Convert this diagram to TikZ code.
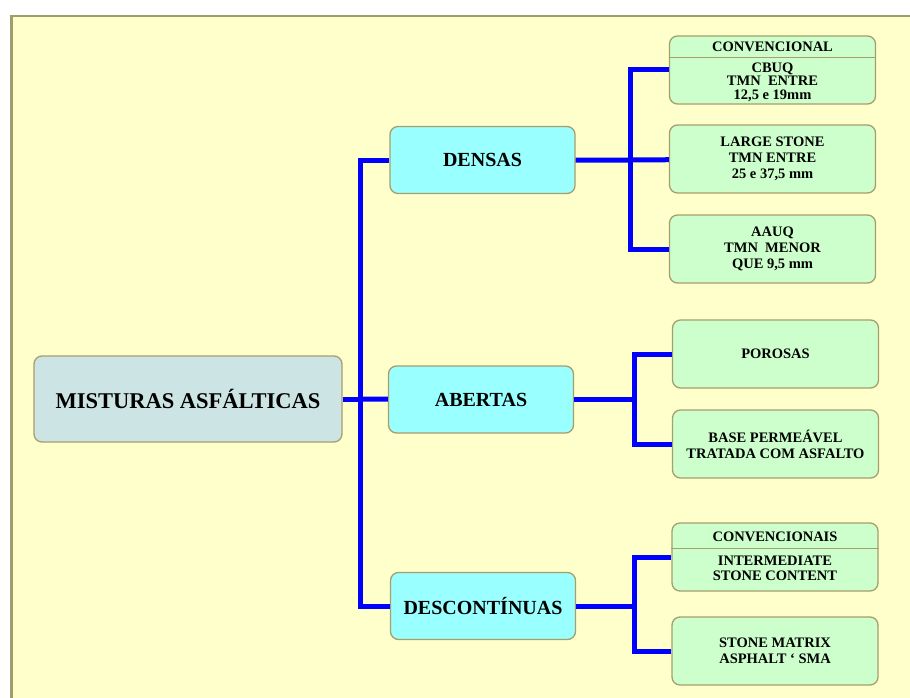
\documentclass[tikz,border=0pt]{standalone}
\usepackage{fontspec}
\setmainfont{Liberation Serif}
\usepackage{xcolor}
\definecolor{paper}{HTML}{FFFFCC}
\definecolor{frame}{HTML}{9E9E70}
\definecolor{edge}{HTML}{A89E6C}
\definecolor{rootfill}{HTML}{CCE4E4}
\definecolor{grpfill}{HTML}{99FFFF}
\definecolor{leaffill}{HTML}{CCFFCC}
\definecolor{wire}{HTML}{0000FF}
\usetikzlibrary{positioning,calc}
\tikzset{
  box/.style={draw=edge,rounded corners=8pt,line width=1.3pt,align=center,inner sep=0pt,font=\bfseries},
  rootbox/.style={box,fill=rootfill,minimum width=308pt,minimum height=86pt,font=\bfseries\fontsize{22.5}{26}\selectfont},
  grpbox/.style={box,fill=grpfill,minimum width=185pt,minimum height=67pt,font=\bfseries\fontsize{20}{24}\selectfont},
  leafbox/.style={box,fill=leaffill,minimum width=206pt,minimum height=68pt,font=\bfseries\fontsize{14.5}{16}\selectfont},
  lab/.style={align=center,inner sep=0pt,font=\bfseries\fontsize{14.5}{13.5}\selectfont},
  link/.style={draw=wire,line width=5pt},
  divider/.style={draw=edge,line width=1pt},
}
\begin{document}
\begin{tikzpicture}[x=1pt,y=-1pt]
\useasboundingbox (0,0) rectangle (910,698);
\fill[paper] (10,15) rectangle (910,698);
\draw[frame,line width=2.5pt] (11.25,698) -- (11.25,16.25) -- (910,16.25);
\node[rootbox] (mist) at (188,399) {MISTURAS ASFÁLTICAS};
\node[grpbox] (dens) at (482.5,160) {DENSAS};
\node[grpbox] (abert) at (481,399.5) {ABERTAS};
\node[grpbox] (desc) at (483,606) {DESCONTÍNUAS};
\node[leafbox] (conv) at (772.5,70) {};
\node[lab] (convt) at (772.5,47) {CONVENCIONAL};
\node[lab] (convb) at (772.5,82) {CBUQ\\TMN\ \ ENTRE\\12,5 e 19mm};
\draw[divider] (conv.west |- 0,58) -- (conv.east |- 0,58);
\node[leafbox] (large) at (772.5,159) {LARGE STONE\\TMN ENTRE\\25 e 37,5 mm};
\node[leafbox] (aauq) at (772.5,249) {AAUQ\\TMN\ \ MENOR\\QUE 9,5 mm};
\node[leafbox] (poro) at (775.5,354) {POROSAS};
\node[leafbox] (base) at (775.5,444) {BASE PERMEÁVEL\\TRATADA COM ASFALTO};
\node[leafbox] (convs) at (775,557) {};
\node[lab] (convst) at (775,537) {CONVENCIONAIS};
\node[lab,font=\bfseries\fontsize{14.5}{15}\selectfont] (convsb) at (775,568) {INTERMEDIATE\\STONE CONTENT};
\draw[divider] (convs.west |- 0,548) -- (convs.east |- 0,548);
\node[leafbox] (sma) at (775,651) {STONE MATRIX\\ASPHALT ‘ SMA};
\coordinate (j0) at (360,399);
\coordinate (j1) at (630,160);
\coordinate (j2) at (634,399.5);
\coordinate (j3) at (634,606);
\draw[link] (mist) -- (j0); \draw[link] (j0) |- (dens); \draw[link] (j0) -- (abert); \draw[link] (j0) |- (desc);
\draw[link] (dens) -- (j1) -- (large); \draw[link] (j1) |- (conv); \draw[link] (j1) |- (aauq);
\draw[link] (abert) -- (j2); \draw[link] (j2) |- (poro); \draw[link] (j2) |- (base);
\draw[link] (desc) -- (j3); \draw[link] (j3) |- (convs); \draw[link] (j3) |- (sma);
\end{tikzpicture}
\end{document}
